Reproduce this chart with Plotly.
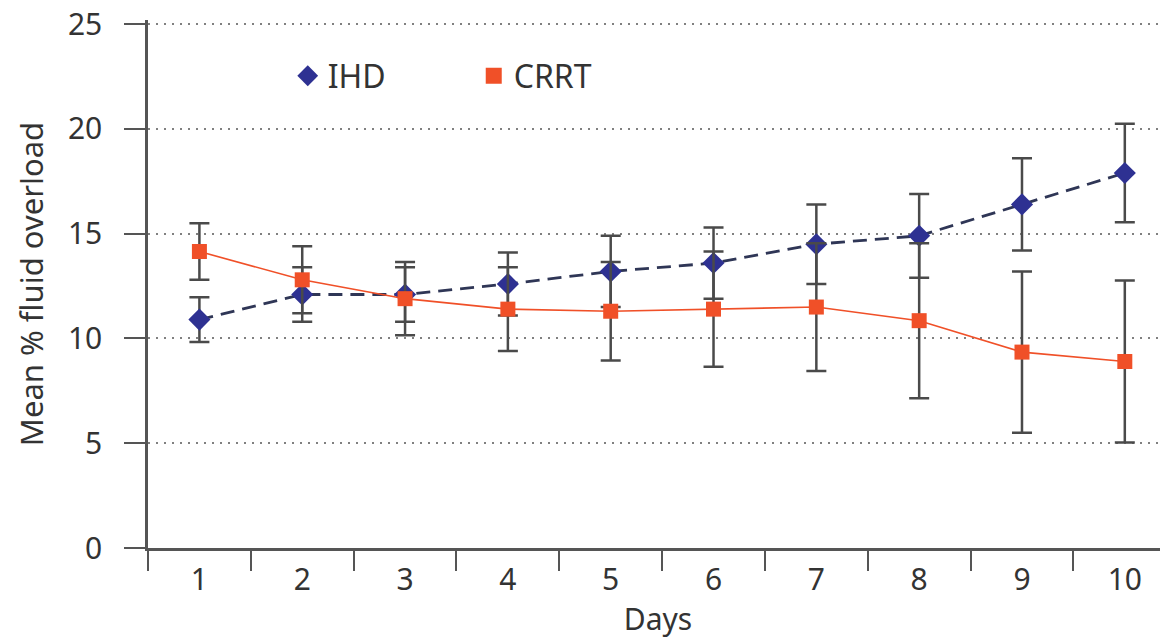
import plotly.graph_objects as go

days = [1, 2, 3, 4, 5, 6, 7, 8, 9, 10]
day_labels = ["1", "2", "3", "4", "5", "6", "7", "8", "9", "10"]
ihd_mean = [10.9, 12.1, 12.1, 12.6, 13.2, 13.6, 14.5, 14.9, 16.4, 17.9]
ihd_err = [1.07, 1.3, 1.3, 1.5, 1.7, 1.7, 1.9, 2.0, 2.2, 2.35]
crrt_mean = [14.15, 12.8, 11.9, 11.4, 11.3, 11.4, 11.5, 10.85, 9.35, 8.9]
crrt_err = [1.35, 1.6, 1.75, 2.0, 2.35, 2.75, 3.05, 3.7, 3.85, 3.87]
y_ticks = [0, 5, 10, 15, 20, 25]
boundaries = [0.5, 1.5, 2.5, 3.5, 4.5, 5.5, 6.5, 7.5, 8.5, 9.5]

FONT = "Noto Sans"
FS = 30
TXT = "#333333"
AX = "#555555"
ERR = "#4a4a4a"
BLUE = "#2e3192"
DASH = "#2f3656"
RED = "#f05028"

fig = go.Figure()

fig.add_trace(go.Scatter(
    x=days, y=ihd_mean, mode="lines+markers", name="IHD", showlegend=False,
    line=dict(color=DASH, width=2.8, dash="14px,8px"),
    marker=dict(symbol="diamond", size=17, color=BLUE),
    error_y=dict(type="data", array=ihd_err, color=ERR, thickness=2.5, width=10),
))
fig.add_trace(go.Scatter(
    x=days, y=crrt_mean, mode="lines+markers", name="CRRT", showlegend=False,
    line=dict(color=RED, width=1.6),
    marker=dict(symbol="square", size=15, color=RED),
    error_y=dict(type="data", array=crrt_err, color=ERR, thickness=2.5, width=10),
))
# legend-only entries (markers only)
fig.add_trace(go.Scatter(x=[None], y=[None], mode="markers", name="IHD",
                         marker=dict(symbol="diamond", size=16, color=BLUE)))
fig.add_trace(go.Scatter(x=[None], y=[None], mode="markers", name="CRRT",
                         marker=dict(symbol="square", size=16, color=RED)))
# invisible trace to attach the labelled axis
fig.add_trace(go.Scatter(x=days, y=crrt_mean, xaxis="x2", mode="markers",
                         marker=dict(opacity=0), showlegend=False, hoverinfo="skip"))

xr = [0.5, 10.42]
fig.update_layout(
    width=1160, height=632,
    margin=dict(l=140, r=0, t=12, b=92, autoexpand=False),
    paper_bgcolor="white", plot_bgcolor="white",
    font=dict(family=FONT, size=FS, color=TXT),
    xaxis=dict(range=xr, tickmode="array", tickvals=boundaries, ticktext=[""] * len(boundaries),
               ticks="outside", ticklen=20, tickwidth=2, tickcolor=AX, automargin=False,
               showline=True, linecolor=AX, linewidth=2.5, showgrid=False, zeroline=False),
    xaxis2=dict(range=xr, overlaying="x", side="bottom", tickmode="array", automargin=False,
                tickvals=days, ticktext=day_labels, ticks="outside", ticklen=5,
                tickcolor="rgba(0,0,0,0)", showline=False, showgrid=False,
                zeroline=False, tickfont=dict(size=FS, color=TXT),
                title=dict(text="Days", font=dict(size=FS, color=TXT), standoff=10)),
    yaxis=dict(range=[0, 25.2], tickmode="array", tickvals=y_ticks, automargin=False,
               ticks="outside", ticklen=21, tickwidth=2, tickcolor=AX, ticklabelstandoff=16,
               ticklabeloverflow="allow",
               showline=True, linecolor=AX, linewidth=2.5,
               showgrid=True, gridcolor="#808080", gridwidth=1.8, griddash="2px,6px",
               zeroline=False, tickfont=dict(size=FS, color=TXT),
               title=dict(text="Mean % fluid overload", font=dict(size=31, color=TXT), standoff=16)),
    legend=dict(orientation="h", x=0.137, y=0.894, xanchor="left", yanchor="middle",
                bgcolor="rgba(0,0,0,0)", font=dict(size=32, color=TXT),
                entrywidth=141, itemwidth=30),
    showlegend=True,
)

fig.write_html("out.html")
